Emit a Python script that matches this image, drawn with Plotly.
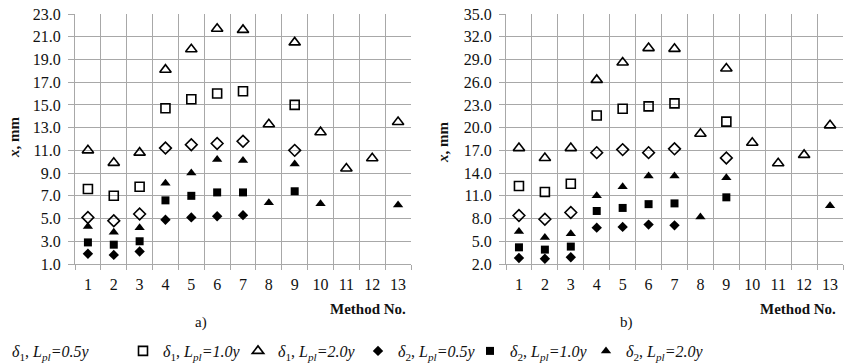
import plotly.graph_objects as go

W, H = 848, 363

methods = list(range(1, 14))

# Panel a)
a_d1_05 = [5.1, 4.8, 5.4, 11.2, 11.5, 11.6, 11.8, None, 11.0, None, None, None, None]
a_d1_10 = [7.6, 7.0, 7.8, 14.7, 15.5, 16.0, 16.2, None, 15.0, None, None, None, None]
a_d1_20 = [11.0, 9.9, 10.8, 18.1, 19.9, 21.7, 21.6, 13.3, 20.5, 12.6, 9.4, 10.3, 13.5]
a_d2_05 = [1.9, 1.8, 2.1, 4.9, 5.1, 5.2, 5.3, None, None, None, None, None, None]
a_d2_10 = [2.9, 2.7, 3.0, 6.6, 7.0, 7.3, 7.3, None, 7.4, None, None, None, None]
a_d2_20 = [4.3, 3.8, 4.2, 8.1, 9.0, 10.2, 10.1, 6.4, 9.8, 6.3, None, None, 6.2]

# Panel b)
b_d1_05 = [8.4, 7.9, 8.8, 16.7, 17.1, 16.7, 17.2, None, 16.0, None, None, None, None]
b_d1_10 = [12.3, 11.5, 12.6, 21.6, 22.5, 22.8, 23.2, None, 20.8, None, None, None, None]
b_d1_20 = [17.3, 16.0, 17.3, 26.3, 28.6, 30.5, 30.4, 19.2, 27.8, 18.0, 15.3, 16.4, 20.3]
b_d2_05 = [2.8, 2.7, 2.9, 6.8, 6.9, 7.2, 7.1, None, None, None, None, None, None]
b_d2_10 = [4.2, 3.9, 4.3, 9.0, 9.4, 9.9, 10.0, None, 10.8, None, None, None, None]
b_d2_20 = [6.3, 5.5, 6.0, 11.0, 12.2, 13.6, 13.6, 8.2, 13.4, None, None, None, 9.7]

series_names = [
    "<i>δ</i><sub>1</sub>, <i>L<sub>pl</sub>=0.5y</i>",
    "<i>δ</i><sub>1</sub>, <i>L<sub>pl</sub>=1.0y</i>",
    "<i>δ</i><sub>1</sub>, <i>L<sub>pl</sub>=2.0y</i>",
    "<i>δ</i><sub>2</sub>, <i>L<sub>pl</sub>=0.5y</i>",
    "<i>δ</i><sub>2</sub>, <i>L<sub>pl</sub>=1.0y</i>",
    "<i>δ</i><sub>2</sub>, <i>L<sub>pl</sub>=2.0y</i>",
]
symbols = ["diamond-open", "square-open", "triangle-up-open", "diamond", "square", "triangle-up"]
sizes = [9, 9, 10, 8, 8, 9]
linew = [1.6, 1.6, 1.6, 0, 0, 0]

a_series = [a_d1_05, a_d1_10, a_d1_20, a_d2_05, a_d2_10, a_d2_20]
b_series = [b_d1_05, b_d1_10, b_d1_20, b_d2_05, b_d2_10, b_d2_20]

a_yticks = [1.0 + 2 * i for i in range(12)]
b_yticks = [2.0 + 3 * i for i in range(12)]

SERIF = "Liberation Serif"


def px_x(p):
    return p / W


def px_y(p):
    return 1 - p / H


fig = go.Figure()
legend_ids = ["legend", "legend2", "legend3", "legend4", "legend5", "legend6"]

for i, vals in enumerate(a_series):
    fig.add_trace(go.Scatter(
        x=methods, y=vals, mode="markers", name=series_names[i],
        marker=dict(symbol=symbols[i], size=sizes[i], color="black",
                    line=dict(color="black", width=linew[i])),
        xaxis="x", yaxis="y", showlegend=True, legend=legend_ids[i],
    ))
for i, vals in enumerate(b_series):
    fig.add_trace(go.Scatter(
        x=methods, y=vals, mode="markers", name=series_names[i],
        marker=dict(symbol=symbols[i], size=sizes[i], color="black",
                    line=dict(color="black", width=linew[i])),
        xaxis="x2", yaxis="y2", showlegend=False,
    ))

grid = "#a8a8a8"
tickfont = dict(family=SERIF, size=16, color="#111111")

xcommon = dict(
    range=[0.5, 13.5], tickvals=methods, ticktext=[str(m) for m in methods],
    showgrid=False, ticks="", tickfont=tickfont, zeroline=False,
    showline=True, linecolor=grid, linewidth=1,
    minor=dict(tickvals=[m - 0.5 for m in methods] + [13.5], showgrid=True,
               gridcolor=grid, gridwidth=1, ticks="outside", ticklen=5, tickcolor=grid),
    ticklabelstandoff=6,
)
ycommon = dict(
    showgrid=True, gridcolor=grid, gridwidth=1, ticks="outside", ticklen=6, tickcolor=grid,
    tickformat=".1f", tickfont=tickfont, zeroline=False,
    showline=True, linecolor=grid, linewidth=1, ticklabelstandoff=4,
)

ydom = [px_y(264), px_y(14)]
fig.update_layout(
    width=W, height=H, margin=dict(l=0, r=0, t=0, b=0, autoexpand=False),
    paper_bgcolor="white", plot_bgcolor="white",
    font=dict(family=SERIF, color="#111111"),
    xaxis=dict(domain=[px_x(75), px_x(411)], anchor="y", automargin=False, **xcommon),
    yaxis=dict(domain=ydom, anchor="x", range=[1, 23], tickvals=a_yticks, automargin=False, **ycommon),
    xaxis2=dict(domain=[px_x(506), px_x(843)], anchor="y2", automargin=False, **xcommon),
    yaxis2=dict(domain=ydom, anchor="x2", range=[2, 35], tickvals=b_yticks, automargin=False, **ycommon),
    showlegend=True,
)

# legends: one per series, positioned along the bottom
legend_x_px = [-28, 123, 238, 358, 470, 586]
for lid, xp in zip(legend_ids, legend_x_px):
    fig.update_layout({lid: dict(
        x=px_x(xp), xanchor="left", y=px_y(351), yanchor="middle",
        orientation="h", bgcolor="rgba(0,0,0,0)", borderwidth=0,
        font=dict(family=SERIF, size=16, color="#111111"),
    )})

ann_font = dict(family=SERIF, size=15, color="#111111")
annotations = [
    dict(text="<b>Method No.</b>", x=px_x(408), y=px_y(309), xanchor="right", yanchor="middle"),
    dict(text="<b>Method No.</b>", x=px_x(838), y=px_y(309), xanchor="right", yanchor="middle"),
    dict(text="a)", x=px_x(201), y=px_y(322), xanchor="center", yanchor="middle"),
    dict(text="b)", x=px_x(626), y=px_y(322), xanchor="center", yanchor="middle"),
    dict(text="<b><i>x</i>, mm</b>", x=px_x(14), y=px_y(138), xanchor="center", yanchor="middle", textangle=-90),
    dict(text="<b><i>x</i>, mm</b>", x=px_x(443), y=px_y(143), xanchor="center", yanchor="middle", textangle=-90),
]
for a in annotations:
    a.update(xref="paper", yref="paper", showarrow=False, font=ann_font)
fig.update_layout(annotations=annotations)

fig.write_html("out.html")
